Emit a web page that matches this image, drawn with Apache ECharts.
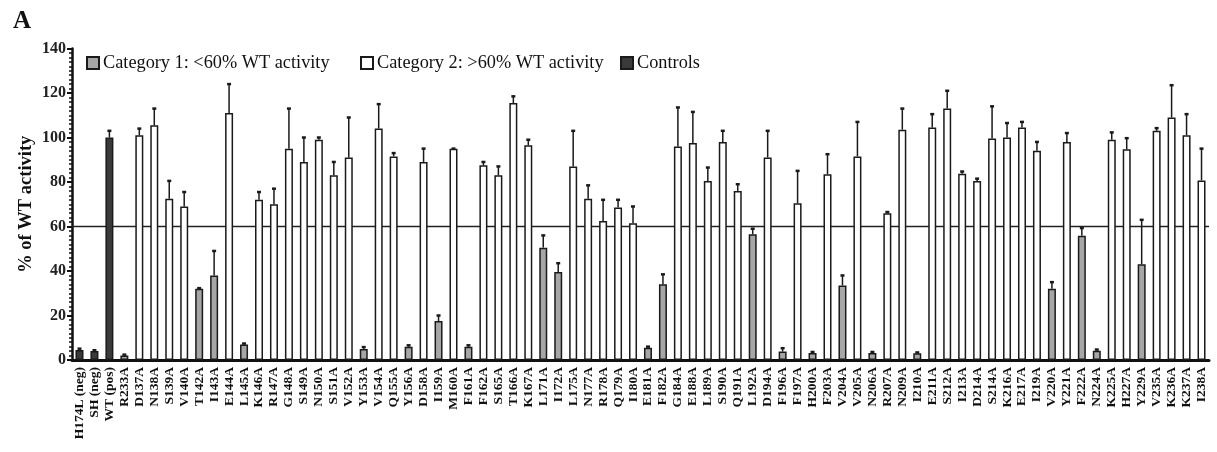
<!DOCTYPE html>
<html>
<head>
<meta charset="utf-8">
<title>Alanine scan activity</title>
<script src="https://cdn.jsdelivr.net/npm/echarts@6/dist/echarts.min.js"></script>
<style>
  html, body { margin: 0; padding: 0; background: #fff; }
  #chart { width: 1217px; height: 452px; }
</style>
</head>
<body>
<div id="chart"></div>
<script>
// Mutants tested, in plotting order (controls first)
const categories = [
  'H174L (neg)', 'SH (neg)', 'WT (pos)', 'R233A', 'D137A', 'N138A', 'S139A', 'V140A',
  'T142A', 'I143A', 'E144A', 'L145A', 'K146A', 'R147A', 'G148A', 'S149A',
  'N150A', 'S151A', 'V152A', 'Y153A', 'V154A', 'Q155A', 'Y156A', 'D158A',
  'I159A', 'M160A', 'F161A', 'F162A', 'S165A', 'T166A', 'K167A', 'L171A',
  'I172A', 'L175A', 'N177A', 'R178A', 'Q179A', 'I180A', 'E181A', 'F182A',
  'G184A', 'E188A', 'L189A', 'S190A', 'Q191A', 'L192A', 'D194A', 'F196A',
  'F197A', 'H200A', 'F203A', 'V204A', 'V205A', 'N206A', 'R207A', 'N209A',
  'I210A', 'E211A', 'S212A', 'I213A', 'D214A', 'S214A', 'K216A', 'E217A',
  'I219A', 'V220A', 'Y221A', 'F222A', 'N224A', 'K225A', 'H227A', 'Y229A',
  'V235A', 'K236A', 'K237A', 'I238A'
];

// Mean activity, % of wild type
const activity = [
  4.5, 4, 100, 2, 101, 105.5, 72.5, 69,
  32, 38, 111, 7, 72, 70, 95, 89,
  99, 83, 91, 5, 104, 91.5, 6, 89,
  17.5, 95, 6, 87.5, 83, 115.5, 96.5, 50.5,
  39.5, 87, 72.5, 62.5, 68.5, 61.5, 5.5, 34,
  96, 97.5, 80.5, 98, 76, 56.5, 91, 3.8,
  70.5, 3.2, 83.5, 33.5, 91.5, 3.2, 66, 103.5,
  3, 104.5, 113, 83.7, 80.5, 99.5, 100, 104.5,
  94, 32, 98, 55.8, 4.2, 99, 94.7, 43,
  103, 109, 101, 80.7
];

// Standard deviation (upper whisker length)
const activitySD = [
  0.6, 0.4, 3, 0.4, 3, 7.5, 8, 6.5,
  0.3, 11, 13, 0.4, 3.5, 7, 18, 11,
  1, 6, 18, 0.8, 11, 1.5, 0.6, 6,
  2.5, 0, 0.6, 1.5, 4, 3, 2.5, 5.5,
  4, 16, 6, 9.5, 3.5, 7.5, 0.5, 4.5,
  17.5, 14, 6, 5, 3, 2.5, 12, 1.5,
  14.5, 0.4, 9, 4.5, 15.5, 0.4, 0.5, 9.5,
  0.4, 6, 8, 1, 1, 14.5, 6.5, 2.5,
  4, 3, 4, 3.5, 0.5, 3.3, 5, 20,
  1.2, 14.5, 9.5, 14.3
];

const controlNames = ['H174L (neg)', 'SH (neg)', 'WT (pos)'];
const cutoff = 60;

const seriesNames = ['Category 1: <60% WT activity', 'Category 2: >60% WT activity', 'Controls'];
const yTicks = { min: 0, max: 140, step: 20 };

function groupOf(i) {
  if (controlNames.includes(categories[i])) return 2;
  return activity[i] < cutoff ? 0 : 1;
}

const groupData = [0, 1, 2].map(g => activity.map((v, i) => (groupOf(i) === g ? v : '-')));
const errorData = activity.map((v, i) => [i, v, v + activitySD[i]]);

const serif = 'Liberation Serif, Times New Roman, serif';
const fills = ['#a6a6a6', '#ffffff', '#3a3a3a'];

const barSeries = [0, 1, 2].map(g => ({
  name: seriesNames[g],
  type: 'bar',
  data: groupData[g],
  barWidth: 8,
  barGap: '-100%',
  z: 3,
  itemStyle: { color: fills[g], borderColor: '#1a1a1a', borderWidth: 1.5 }
}));

// one legend entry per box, placed side by side above the plot
const legendLeft = [86, 360, 620];
const legends = seriesNames.map((name, g) => ({
  data: [name],
  left: legendLeft[g], top: 54, padding: 0,
  icon: 'rect', itemWidth: 12, itemHeight: 12,
  textStyle: { fontFamily: serif, fontSize: 18.3, color: '#111', padding: [0, 0, 0, -1] }
}));

const chart = echarts.init(document.getElementById('chart'), null, { renderer: 'canvas' });

chart.setOption({
  animation: false,
  backgroundColor: '#ffffff',
  title: {
    text: 'A', left: 8, top: 4,
    textStyle: { fontFamily: serif, fontSize: 25, fontWeight: 'bold', color: '#111' }
  },
  legend: legends,
  grid: { left: 72, right: 8, top: 48.5, bottom: 92 },
  xAxis: {
    type: 'category',
    data: categories,
    axisLine: { lineStyle: { color: '#111', width: 3 } },
    axisTick: { alignWithLabel: true, length: 4, lineStyle: { color: '#111', width: 2 } },
    axisLabel: {
      interval: 0, rotate: 90, margin: 7,
      fontFamily: serif, fontSize: 13.5, fontWeight: 'bold', color: '#111'
    }
  },
  yAxis: {
    type: 'value',
    min: yTicks.min, max: yTicks.max, interval: yTicks.step,
    name: '% of WT activity',
    nameLocation: 'middle', nameGap: 36, nameMoveOverlap: false,
    nameTextStyle: { fontFamily: serif, fontSize: 18.5, fontWeight: 'bold', color: '#111' },
    axisLine: { show: true, lineStyle: { color: '#111', width: 2.5 } },
    axisTick: { show: true, length: 5, lineStyle: { color: '#111', width: 2 } },
    minorTick: { show: true, splitNumber: 10, length: 3, lineStyle: { color: '#111', width: 1.5 } },
    splitLine: { show: false },
    axisLabel: { fontFamily: serif, fontSize: 16, fontWeight: 'bold', color: '#222', margin: 6 }
  },
  series: [
    {
      // horizontal cut-off line, drawn underneath the bars
      type: 'custom',
      z: 1,
      silent: true,
      data: [[0, cutoff]],
      renderItem: function (params, api) {
        const cs = params.coordSys;
        const y = api.coord([0, api.value(1)])[1];
        return {
          type: 'line',
          shape: { x1: cs.x, y1: y, x2: cs.x + cs.width, y2: y },
          style: { stroke: '#222', lineWidth: 1.5 }
        };
      }
    },
    ...barSeries,
    {
      type: 'custom',
      z: 4,
      data: errorData,
      encode: { x: 0, y: [1, 2] },
      renderItem: function (params, api) {
        const idx = api.value(0);
        const lo = api.coord([idx, api.value(1)]);
        const hi = api.coord([idx, api.value(2)]);
        return {
          type: 'group',
          children: [
            { type: 'line', shape: { x1: lo[0], y1: lo[1], x2: hi[0], y2: hi[1] },
              style: { stroke: '#1a1a1a', lineWidth: 1.5 } },
            { type: 'line', shape: { x1: hi[0] - 2, y1: hi[1], x2: hi[0] + 2, y2: hi[1] },
              style: { stroke: '#1a1a1a', lineWidth: 2.5 } }
          ]
        };
      }
    }
  ]
});
</script>
</body>
</html>
